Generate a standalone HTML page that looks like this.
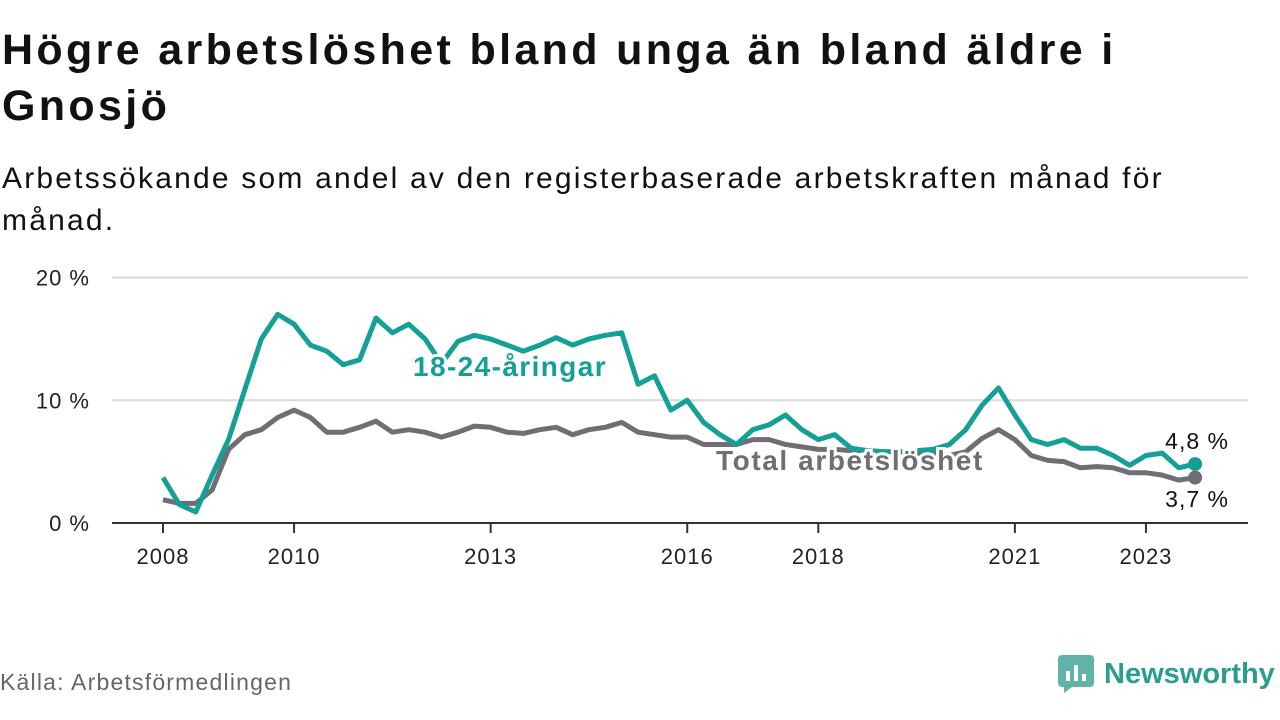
<!DOCTYPE html>
<html><head><meta charset="utf-8">
<style>
body{margin:0;width:1280px;height:720px;background:#fff;font-family:"Liberation Sans",sans-serif;color:#111;overflow:hidden;position:relative}
h1{position:absolute;left:2px;top:22px;margin:0;font-size:43px;line-height:56px;font-weight:bold;letter-spacing:3.35px;color:#111}
.sub{position:absolute;left:2px;top:158px;margin:0;font-size:30px;line-height:42px;letter-spacing:2.2px;color:#111}
.src{position:absolute;left:0;top:669px;font-size:23px;letter-spacing:1.2px;color:#666}
.logo{position:absolute;left:1058px;top:655px;display:flex;align-items:center}
.logo span{font-size:29px;font-weight:bold;color:#2a9d8f;margin-left:10px}
</style></head><body>
<h1>Högre arbetslöshet bland unga än bland äldre i<br>Gnosjö</h1>
<p class="sub">Arbetssökande som andel av den registerbaserade arbetskraften månad för<br>månad.</p>
<svg id="chart" width="1280" height="720" style="position:absolute;left:0;top:0"></svg>
<div class="src">Källa: Arbetsförmedlingen</div>
<div class="logo">
<svg width="36" height="38"><rect x="0" y="0" width="36" height="32" rx="4" fill="#5fb3a8"/><polygon points="6,32 14,32 6,38" fill="#5fb3a8"/><rect x="8" y="16" width="4" height="10" fill="#fff"/><rect x="16" y="10" width="4" height="16" fill="#fff"/><rect x="24" y="19" width="4" height="7" fill="#fff"/></svg>
<span>Newsworthy</span></div>
<script>
const startYear=2008, step=0.25;
const youth=[3.7,1.5,0.9,3.9,6.8,10.9,15,17,16.2,14.5,14,12.9,13.3,16.7,15.5,16.2,15,13,14.8,15.3,15,14.5,14,14.5,15.1,14.5,15,15.3,15.5,11.3,12,9.2,10,8.2,7.2,6.4,7.6,8,8.8,7.6,6.8,7.2,6.1,5.9,5.8,5.8,5.9,6,6.4,7.6,9.6,11,8.8,6.8,6.4,6.8,6.1,6.1,5.5,4.7,5.5,5.7,4.5,4.8];
const total=[1.9,1.6,1.6,2.7,6,7.2,7.6,8.6,9.2,8.6,7.4,7.4,7.8,8.3,7.4,7.6,7.4,7,7.4,7.9,7.8,7.4,7.3,7.6,7.8,7.2,7.6,7.8,8.2,7.4,7.2,7,7,6.4,6.4,6.4,6.8,6.8,6.4,6.2,6,6,5.9,5.9,5.8,5.8,5.7,5.7,5.5,5.8,6.9,7.6,6.8,5.5,5.1,5,4.5,4.6,4.5,4.1,4.1,3.9,3.5,3.7];
const yTicks=[0,10,20];
const xTicks=[2008,2010,2013,2016,2018,2021,2023];
const NS="http://www.w3.org/2000/svg";
const svg=document.getElementById('chart');
const X=t=>163+(t-2008)*65.53;
const Y=v=>523-v*12.27;
function mk(tag,attrs){const e=document.createElementNS(NS,tag);for(const k in attrs)e.setAttribute(k,attrs[k]);svg.appendChild(e);return e;}
yTicks.forEach(v=>{
 if(v>0){const g=mk('line',{x1:112,x2:1248,y1:Y(v),y2:Y(v),stroke:'#d9d9d9','stroke-width':2});
 
 }
 const t=mk('text',{x:90,y:Y(v)+8,'text-anchor':'end','font-size':22,fill:'#222','letter-spacing':1});t.textContent=v+' %';
 
 
});
const ax=mk('line',{x1:112,x2:1248,y1:523,y2:523,stroke:'#333','stroke-width':2});


xTicks.forEach(yr=>{
 const l=mk('line',{x1:X(yr),x2:X(yr),y1:523,y2:533,stroke:'#333','stroke-width':2});
 
 
 const t=mk('text',{x:X(yr),y:564,'text-anchor':'middle','font-size':22,fill:'#222','letter-spacing':1});t.textContent=yr;
 
 
});
function line(arr,color,name){
 const d=arr.map((v,i)=>(i?'L':'M')+X(startYear+i*step).toFixed(1)+','+Y(v).toFixed(1)).join(' ');
 const p=mk('path',{d:d,fill:'none',stroke:color,'stroke-width':5,'stroke-linejoin':'round'});
 
 
}
line(total,'#716d74','total-line');
line(youth,'#14a096','youth-line');
const lx=X(startYear+(youth.length-1)*step);
const d1=mk('circle',{cx:lx,cy:Y(youth[youth.length-1]),r:7,fill:'#14a096'});


const d2=mk('circle',{cx:lx,cy:Y(total[total.length-1]),r:7,fill:'#716d74'});


function lab(x,y,txt,color,size,w,name,anchor,ls){
 const t=mk('text',{x:x,y:y,'font-size':size,'font-weight':w,fill:color,stroke:'#fff','stroke-width':w==='bold'?6:4,'paint-order':'stroke','text-anchor':anchor||'start','letter-spacing':ls||0});
 t.textContent=txt;
 
 
}
lab(413,376,'18-24-åringar','#14a096',28,'bold','youth-series-label','start',1.4);
lab(716,470,'Total arbetslöshet','#716d74',28,'bold','total-series-label','start',1.6);
lab(1229,449,'4,8 %','#111',23,'normal','youth-end-value','end',1);
lab(1229,507,'3,7 %','#111',23,'normal','total-end-value','end',1);
</script>
</body></html>
